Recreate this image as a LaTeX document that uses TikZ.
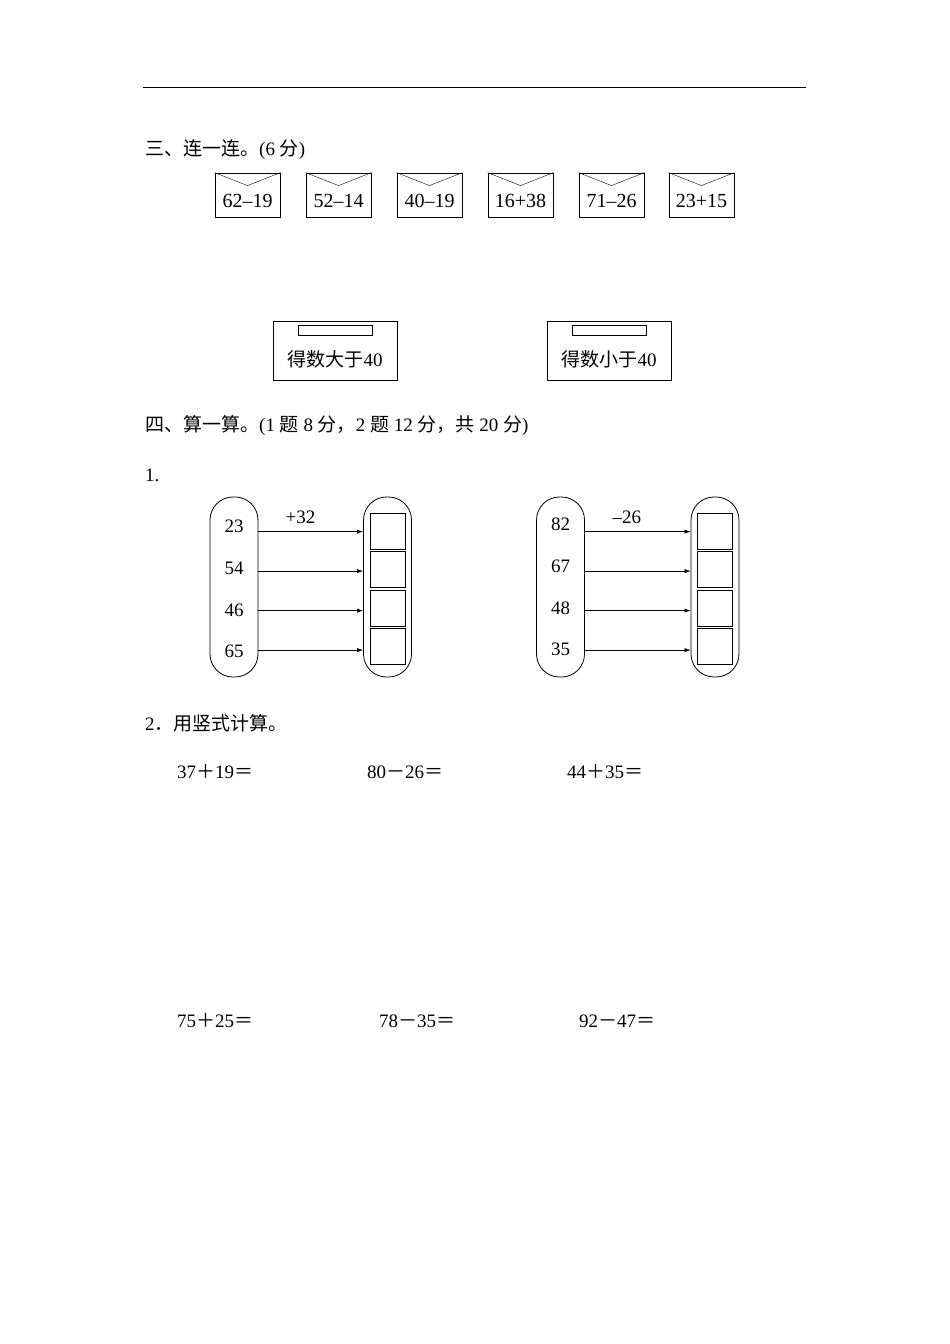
\documentclass[tikz,border=0pt]{standalone}
\usepackage{fontspec}
\setmainfont{Liberation Serif}
\newfontfamily\cjk{Noto Sans CJK SC}
\usetikzlibrary{positioning, calc, arrows.meta}

\begin{document}
\begin{tikzpicture}
    [x=1pt, y=-1pt,
    txt/.style={font=\fontsize{19}{21}\selectfont, inner sep=0pt},
    envelope/.style={rectangle, draw=black, thick, minimum width=65pt, minimum height=44pt, inner sep=0pt},
    mailbox/.style={rectangle, draw=black, thick, minimum width=124pt, minimum height=59pt},
    capsule/.style={rectangle, draw=black, thick, rounded corners=23pt, minimum width=48pt, minimum height=180pt},
    answerbox/.style={rectangle, draw=black, thick, minimum width=35pt, minimum height=36pt},]

    \useasboundingbox (0,0) rectangle (950,1344);
    \draw[thick] (143,87) -- (806,87);

    %Headings
    \node(part3)[txt, anchor=west] at (145,150) {{\cjk 三、连一连。}(6 {\cjk 分})};
    \node(part4)[txt, anchor=west] at (145,425) {{\cjk 四、算一算。}(1 {\cjk 题} 8 {\cjk 分，}2 {\cjk 题} 12 {\cjk 分，共} 20 {\cjk 分})};
    \node(q1)[txt, anchor=west] at (145,475) {1.};
    \node(q2)[txt, anchor=west] at (145,723) {2{\cjk ．用竖式计算。}};

    %Envelopes
    \foreach \x/\e [count=\i] in {247.5/62--19, 338.5/52--14, 429.5/40--19, 520.5/16+38, 611.5/71--26, 701.5/23+15} {
        \node(env\i)[envelope] at (\x,195) {};
        \node(envtext\i)[txt, font=\fontsize{20}{22}\selectfont] at ($(env\i.center)+(0,6)$) {\e};
        \draw (env\i.north west) -- ($(env\i.north)+(0,13)$) -- (env\i.north east);
    }

    %Mailboxes
    \node(boxbig)[mailbox] at (335,350.5) {};
    \node(boxsmall)[mailbox] at (609,350.5) {};
    \foreach \b/\t in {boxbig/大, boxsmall/小} {
        \draw[thick] ($(\b.north)+(-37,5)$) rectangle ($(\b.north)+(37,15)$);
        \node(\b label)[txt] at ($(\b.center)+(0,9)$) {{\cjk 得数\t 于}40};
    }

    %Arrow machines
    \foreach \m/\lx/\rx/\op in {add/234/387.5/+32, sub/560.5/715/--26} {
        \node(\m in)[capsule] at (\lx,587) {};
        \node(\m out)[capsule] at (\rx,587) {};
        \foreach \n [count=\j] in {1,...,4} {
            \node(\m box\j)[answerbox] at ($(\m out.north)+(0,34.5+38.5*\j-38.5)$) {};
            \coordinate(\m from\j) at ($(\m in.north east)+(0,35+39.5*\j-39.5)$);
            \draw[-{Latex[length=6pt,width=4pt]}] (\m from\j) -- (\m from\j -| \m out.west);
        }
        \node(\m op)[txt] at ($(\m in.north east)+(42,21)$) {\op};
    }
    \foreach \v [count=\j] in {23,54,46,65} {
        \node(addnum\j)[txt] at ($(addin.north)+(0,30+41.7*\j-41.7)$) {\v};
    }
    \foreach \v [count=\j] in {82,67,48,35} {
        \node(subnum\j)[txt] at ($(subin.north)+(0,28+41.7*\j-41.7)$) {\v};
    }

    %Vertical sums
    \foreach \x/\a/\o/\b [count=\i] in {177/37/＋/19, 367/80/－/26, 567/44/＋/35} {
        \node(suma\i)[txt, anchor=west] at (\x,772) {\a{\cjk \o}\b{\cjk ＝}};
    }
    \foreach \x/\a/\o/\b [count=\i] in {177/75/＋/25, 379/78/－/35, 579/92/－/47} {
        \node(sumb\i)[txt, anchor=west] at (\x,1021) {\a{\cjk \o}\b{\cjk ＝}};
    }
\end{tikzpicture}
\end{document}
